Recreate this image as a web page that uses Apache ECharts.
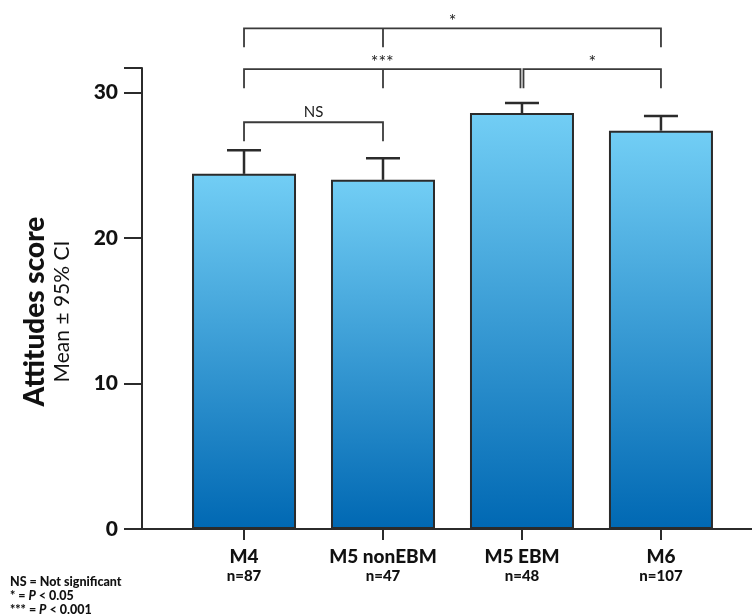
<!DOCTYPE html>
<html>
<head>
<meta charset="utf-8">
<script src="https://cdn.jsdelivr.net/npm/echarts@6/dist/echarts.min.js"></script>
<style>html,body{margin:0;padding:0;background:#fff;}#c{width:752px;height:615px;}</style>
</head>
<body>
<div id="c"></div>
<script>
// ---- data ----
var categories = ['M4', 'M5 nonEBM', 'M5 EBM', 'M6'];
var sampleSizes = [87, 47, 48, 107];
var means = [24.42, 24.01, 28.60, 27.39];
var upperCI = [26.04, 25.49, 29.29, 28.40];
var yTicks = [0, 10, 20, 30];
// significance brackets: from category, to category, level (y units), label, extra tick category
var bracketFrom = [0, 0, 2, 0];
var bracketTo = [3, 2, 3, 1];
var bracketLevel = [34.43, 31.62, 31.62, 27.97];
var bracketLabel = ['*', '***', '*', 'NS'];
var bracketMidTick = [1, 1, null, null];

var FONT = 'Lato, "Open Sans", sans-serif';
var barData = categories.map(function (c, i) { return [i, means[i]]; });
var errData = categories.map(function (c, i) { return [i, means[i], upperCI[i]]; });
var brData = bracketFrom.map(function (f, i) { return [f, bracketTo[i], bracketLevel[i], i]; });

var chart = echarts.init(document.getElementById('c'));
chart.setOption({
  animation: false,
  backgroundColor: '#fff',
  grid: { left: 142, right: 0, top: 68, bottom: 86 },
  xAxis: {
    type: 'value', min: -0.734, max: 3.655,
    splitLine: { show: false },
    axisLine: { show: true, onZero: false, lineStyle: { color: '#2b2b2b', width: 2 } },
    axisTick: { show: true, customValues: [0, 1, 2, 3], length: 11, lineStyle: { color: '#2b2b2b', width: 2 } },
    axisLabel: {
      customValues: [0, 1, 2, 3], margin: 17,
      formatter: function (v) { var i = Math.round(v); return '{c|' + categories[i] + '}\n{n|n=' + sampleSizes[i] + '}'; },
      rich: {
        c: { fontFamily: FONT, fontWeight: 900, fontSize: 19, color: '#111', lineHeight: 22 },
        n: { fontFamily: FONT, fontWeight: 900, fontSize: 15, color: '#111', lineHeight: 17 }
      }
    }
  },
  yAxis: {
    type: 'value', min: 0, max: 31.7, interval: 10,
    splitLine: { show: false },
    axisLine: { show: true, onZero: false, lineStyle: { color: '#2b2b2b', width: 2 } },
    axisTick: { show: true, length: 18, lineStyle: { color: '#2b2b2b', width: 2 } },
    axisLabel: {
      margin: 24, fontFamily: FONT, fontWeight: 900, fontSize: 21, color: '#111',
      formatter: function (v) { return yTicks.indexOf(v) >= 0 ? String(v) : ''; }
    },
    name: '{a|Attitudes score}\n{b|Mean ± 95% CI}',
    nameLocation: 'middle', nameRotate: 90, nameGap: 68,
    nameTextStyle: {
      padding: [0, 26, 0, 0],
      rich: {
        a: { fontFamily: FONT, fontWeight: 900, fontSize: 28, color: '#111', lineHeight: 30 },
        b: { fontFamily: FONT, fontSize: 21, color: '#111', lineHeight: 24 }
      }
    }
  },
  title: {
    left: 5, top: 570,
    text: 'NS = Not significant\n{t|* = }{p|P}{t| < 0.05}\n{t|*** = }{p|P}{t| < 0.001}',
    textStyle: {
      fontFamily: FONT, fontWeight: 900, fontSize: 12.5, color: '#111', lineHeight: 14,
      rich: {
        t: { fontFamily: FONT, fontWeight: 900, fontSize: 12.5, color: '#111', lineHeight: 14 },
        p: { fontFamily: FONT, fontWeight: 900, fontStyle: 'italic', fontSize: 12.5, color: '#111', lineHeight: 14 }
      }
    }
  },
  series: [
    {
      type: 'bar', data: barData, barWidth: 104,
      itemStyle: {
        borderColor: '#2b2b2b', borderWidth: 2,
        color: new echarts.graphic.LinearGradient(0, 0, 0, 1, [
          { offset: 0, color: '#72cef5' },
          { offset: 1, color: '#0068b3' }
        ])
      }
    },
    {
      type: 'custom', data: errData, z: 3,
      encode: { x: 0, y: [1, 2] },
      renderItem: function (params, api) {
        var x = api.value(0);
        var p0 = api.coord([x, api.value(1)]);
        var p1 = api.coord([x, api.value(2)]);
        var style = { stroke: '#2b2b2b', lineWidth: 2.5, fill: null };
        return { type: 'group', children: [
          { type: 'line', shape: { x1: p0[0], y1: p0[1], x2: p1[0], y2: p1[1] }, style: style },
          { type: 'line', shape: { x1: p1[0] - 17, y1: p1[1], x2: p1[0] + 17, y2: p1[1] }, style: style }
        ] };
      }
    },
    {
      type: 'custom', data: brData, clip: false, z: 3,
      encode: { x: [0, 1], y: 2 },
      renderItem: function (params, api) {
        var idx = api.value(3);
        var f = api.value(0), t = api.value(1), lv = api.value(2);
        var a = api.coord([f, lv]), b = api.coord([t, lv]);
        // small gap where two brackets at the same level share an end
        for (var k = 0; k < bracketFrom.length; k++) {
          if (k === idx || bracketLevel[k] !== lv) continue;
          if (bracketFrom[k] === t) b[0] -= 1.5;
          if (bracketTo[k] === f) a[0] += 1.5;
        }
        var drop = 19;
        var style = { stroke: '#3a3a3a', lineWidth: 1.8, fill: null };
        var kids = [
          { type: 'polyline', shape: { points: [[a[0], a[1] + drop], [a[0], a[1]], [b[0], b[1]], [b[0], b[1] + drop]] }, style: style }
        ];
        var m = bracketMidTick[idx];
        if (m !== null && m !== undefined) {
          var c = api.coord([m, lv]);
          kids.push({ type: 'line', shape: { x1: c[0], y1: c[1], x2: c[0], y2: c[1] + drop }, style: style });
        }
        var lab = bracketLabel[idx];
        var isStar = lab.indexOf('*') >= 0;
        kids.push({ type: 'text', x: (a[0] + b[0]) / 2, y: a[1] + (isStar ? 2 : -3),
          style: { text: lab, fontFamily: FONT, fontSize: isStar ? 18 : 15, fill: '#1a1a1a', align: 'center', verticalAlign: 'bottom' } });
        return { type: 'group', children: kids };
      }
    }
  ]
});
</script>
</body>
</html>
